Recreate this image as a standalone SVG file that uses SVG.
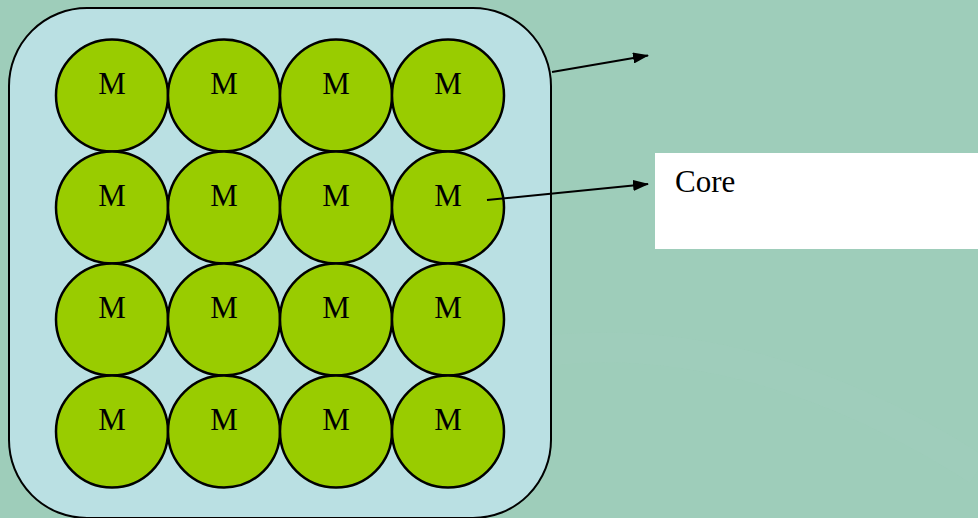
<svg xmlns="http://www.w3.org/2000/svg" width="978" height="518" viewBox="0 0 978 518">
<defs>
<style>
.bg{fill:#9ECDBA}
.chip{fill:#BAE0E3;stroke:#000;stroke-width:2}
.core{fill:#99CC00;stroke:#000;stroke-width:2.5}
.lbl{font-family:"Liberation Serif","Times New Roman",serif;font-size:31px;fill:#000;text-anchor:middle}
.conn{stroke:#000;stroke-width:2;fill:none;marker-end:url(#arr)}
</style>
<marker id="arr" viewBox="0 0 16 11" refX="15" refY="5.5" markerWidth="16" markerHeight="11" orient="auto" markerUnits="userSpaceOnUse">
<path d="M0,0 L16,5.5 L0,11 Z" fill="#000"/>
</marker>
</defs>
<rect class="bg" x="0" y="0" width="978" height="518"/>
<path d="M552,350 Q760,330 978,470" fill="none" stroke="#A6D2C4" stroke-width="30" opacity="0.15"/>
<g id="chip">
<rect class="chip" x="9" y="8" width="542" height="510" rx="78" ry="78"/>
</g>
<g id="cores">
<g id="m11"><circle class="core" cx="112" cy="95.5" r="56"/><text class="lbl" x="112" y="94">M</text></g>
<g id="m12"><circle class="core" cx="224" cy="95.5" r="56"/><text class="lbl" x="224" y="94">M</text></g>
<g id="m13"><circle class="core" cx="336" cy="95.5" r="56"/><text class="lbl" x="336" y="94">M</text></g>
<g id="m14"><circle class="core" cx="448" cy="95.5" r="56"/><text class="lbl" x="448" y="94">M</text></g>
<g id="m21"><circle class="core" cx="112" cy="207.5" r="56"/><text class="lbl" x="112" y="206">M</text></g>
<g id="m22"><circle class="core" cx="224" cy="207.5" r="56"/><text class="lbl" x="224" y="206">M</text></g>
<g id="m23"><circle class="core" cx="336" cy="207.5" r="56"/><text class="lbl" x="336" y="206">M</text></g>
<g id="m24"><circle class="core" cx="448" cy="207.5" r="56"/><text class="lbl" x="448" y="206">M</text></g>
<g id="m31"><circle class="core" cx="112" cy="319.5" r="56"/><text class="lbl" x="112" y="318">M</text></g>
<g id="m32"><circle class="core" cx="224" cy="319.5" r="56"/><text class="lbl" x="224" y="318">M</text></g>
<g id="m33"><circle class="core" cx="336" cy="319.5" r="56"/><text class="lbl" x="336" y="318">M</text></g>
<g id="m34"><circle class="core" cx="448" cy="319.5" r="56"/><text class="lbl" x="448" y="318">M</text></g>
<g id="m41"><circle class="core" cx="112" cy="431.5" r="56"/><text class="lbl" x="112" y="430">M</text></g>
<g id="m42"><circle class="core" cx="224" cy="431.5" r="56"/><text class="lbl" x="224" y="430">M</text></g>
<g id="m43"><circle class="core" cx="336" cy="431.5" r="56"/><text class="lbl" x="336" y="430">M</text></g>
<g id="m44"><circle class="core" cx="448" cy="431.5" r="56"/><text class="lbl" x="448" y="430">M</text></g>
</g>
<g id="corebox">
<rect x="655" y="153" width="323" height="96" fill="#FFFFFF"/>
<text x="675" y="192" font-family="'Liberation Serif','Times New Roman',serif" font-size="31" fill="#000">Core</text>
</g>
<g id="connectors">
<line class="conn" x1="552" y1="72" x2="648" y2="55.5"/>
<line class="conn" x1="487" y1="200" x2="648" y2="184"/>
</g>
</svg>
